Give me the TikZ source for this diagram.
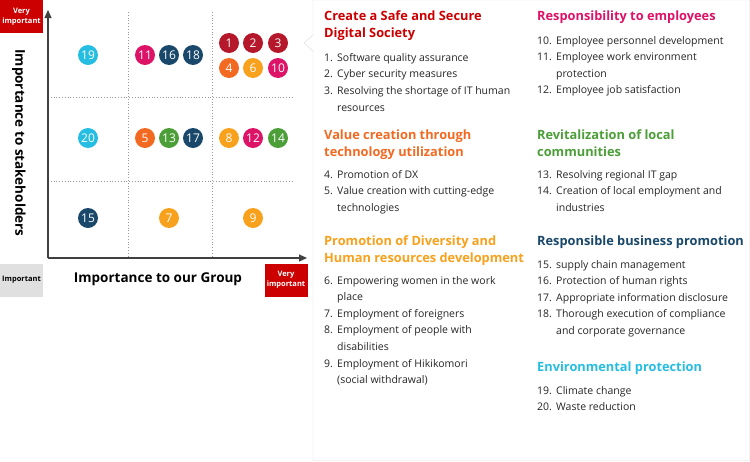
\documentclass[tikz,border=0pt]{standalone}
\usepackage{fontspec}
\setmainfont{Open Sans}
\usetikzlibrary{arrows.meta}
\definecolor{cRed}{HTML}{B5172B}
\definecolor{cOrRed}{HTML}{F26A21}
\definecolor{cOrange}{HTML}{F8A11C}
\definecolor{cMagenta}{HTML}{DD1367}
\definecolor{cGreen}{HTML}{4C9F38}
\definecolor{cNavy}{HTML}{19486A}
\definecolor{cCyan}{HTML}{26BDE2}
\definecolor{cBoxRed}{HTML}{CC0000}
\newcommand{\itmA}[2]{\makebox[13pt][l]{#1}#2}
\newcommand{\itmB}[2]{\makebox[19pt][l]{#1}#2}

\begin{document}
\begin{tikzpicture}[x=1pt, y=-1pt, >={Triangle[length=8pt,width=7pt]}]
        \tikzset{
           dot/.style={
                        circle,
                        fill=#1,
                        minimum size=20pt,
                        inner sep=0pt,
                        text=white,
                        font=\fontsize{12}{12}\selectfont
                       },
           tag/.style={
                        rectangle,
                        minimum width=43pt,
                        minimum height=33pt,
                        inner sep=0pt,
                        align=center,
                        font=\bfseries\fontsize{7.5}{10}\selectfont
                       },
           axis/.style={
                        draw=black!75,
                        line width=1.2pt
                       },
           grid/.style={
                        draw=black!40,
                        line width=0.8pt,
                        dotted
                       },
           heading/.style={
                        anchor=north west,
                        align=left,
                        inner sep=0pt,
                        text=#1,
                        font=\bfseries\fontsize{12.8}{16.5}\selectfont
                       },
           items/.style={
                        anchor=north west,
                        align=left,
                        inner sep=0pt,
                        text=black!85,
                        font=\fontsize{10.5}{16.6}\selectfont
                       },
                 };
    %--------------------
        \useasboundingbox (0,0) rectangle (750,461);
        \draw[black!15, fill=white] (313,0) -- (749.5,0) -- (749.5,460.5) -- (313,460.5)
              -- (313,51) -- (304,43) -- (313,35) -- cycle;

        \coordinate (origin) at (48,258);
        \coordinate (yTip)   at (48,10);
        \coordinate (xTip)   at (307,258);
        \draw[grid] (128,12) -- (128,258) (212,12) -- (212,258)
                    (48,97) -- (292,97) (48,181) -- (292,181);
        \draw[axis,->] (origin) -- (yTip);
        \draw[axis,->] (origin) -- (xTip);

        \node[tag, fill=cBoxRed, text=white] (veryImpY) at (21.5,16.5)  {Very\\important};
        \node[tag, fill=black!12, text=black] (important) at (21.5,280) {Important};
        \node[tag, fill=cBoxRed, text=white] (veryImpX) at (286,280)   {Very\\important};

        \node[rotate=-90, font=\bfseries\fontsize{13.5}{14}\selectfont] (yLabel) at (19,143) {Importance to stakeholders};
        \node[font=\bfseries\fontsize{13.5}{14}\selectfont] (xLabel) at (158,279) {Importance to our Group};
    %--------------------
        \node[dot=cRed]     (m1)  at (229,43)  {1};
        \node[dot=cRed]     (m2)  at (253,43)  {2};
        \node[dot=cRed]     (m3)  at (278,43)  {3};
        \node[dot=cOrRed]   (m4)  at (229,68)  {4};
        \node[dot=cOrange]  (m6)  at (253,68)  {6};
        \node[dot=cMagenta] (m10) at (278,68)  {10};
        \node[dot=cCyan]    (m19) at (88,55)   {19};
        \node[dot=cMagenta] (m11) at (145,55)  {11};
        \node[dot=cNavy]    (m16) at (169,55)  {16};
        \node[dot=cNavy]    (m18) at (193,55)  {18};
        \node[dot=cCyan]    (m20) at (88,138)  {20};
        \node[dot=cOrRed]   (m5)  at (145,138) {5};
        \node[dot=cGreen]   (m13) at (169,138) {13};
        \node[dot=cNavy]    (m17) at (193,138) {17};
        \node[dot=cOrange]  (m8)  at (229,138) {8};
        \node[dot=cMagenta] (m12) at (253,138) {12};
        \node[dot=cGreen]   (m14) at (278,138) {14};
        \node[dot=cNavy]    (m15) at (88,218)  {15};
        \node[dot=cOrange]  (m7)  at (169,218) {7};
        \node[dot=cOrange]  (m9)  at (253,218) {9};
    %--------------------
        \node[heading=cBoxRed]  (hSafe)    at (324,11)  {Create a Safe and Secure\\Digital Society};
        \node[items]            (iSafe)    at (324,53)  {\itmA{1.}{Software quality assurance}\\\itmA{2.}{Cyber security measures}\\\itmA{3.}{Resolving the shortage of IT human}\\\itmA{}{resources}};
        \node[heading=cOrRed]   (hValue)   at (324,130) {Value creation through\\technology utilization};
        \node[items]            (iValue)   at (324,170) {\itmA{4.}{Promotion of DX}\\\itmA{5.}{Value creation with cutting-edge}\\\itmA{}{technologies}};
        \node[heading=cOrange]  (hDiv)     at (324,236) {Promotion of Diversity and\\Human resources development};
        \node[items]            (iDiv)     at (324,276) {\itmA{6.}{Empowering women in the work}\\\itmA{}{place}\\\itmA{7.}{Employment of foreigners}\\\itmA{8.}{Employment of people with}\\\itmA{}{disabilities}\\\itmA{9.}{Employment of Hikikomori}\\\itmA{}{(social withdrawal)}};

        \node[heading=cMagenta] (hEmp)     at (537,11)  {Responsibility to employees};
        \node[items]            (iEmp)     at (537,36)  {\itmB{10.}{Employee personnel development}\\\itmB{11.}{Employee work environment}\\\itmB{}{protection}\\\itmB{12.}{Employee job satisfaction}};
        \node[heading=cGreen]   (hLocal)   at (537,130) {Revitalization of local\\communities};
        \node[items]            (iLocal)   at (537,170) {\itmB{13.}{Resolving regional IT gap}\\\itmB{14.}{Creation of local employment and}\\\itmB{}{industries}};
        \node[heading=cNavy]    (hBiz)     at (537,236) {Responsible business promotion};
        \node[items]            (iBiz)     at (537,260) {\itmB{15.}{supply chain management}\\\itmB{16.}{Protection of human rights}\\\itmB{17.}{Appropriate information disclosure}\\\itmB{18.}{Thorough execution of compliance}\\\itmB{}{and corporate governance}};
        \node[heading=cCyan]    (hEnv)     at (537,362) {Environmental protection};
        \node[items]            (iEnv)     at (537,386) {\itmB{19.}{Climate change}\\\itmB{20.}{Waste reduction}};
    \end{tikzpicture}
\end{document}
